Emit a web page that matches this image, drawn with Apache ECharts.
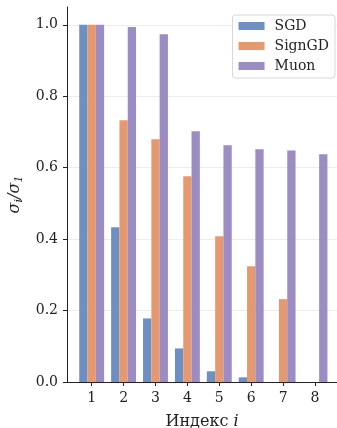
<!DOCTYPE html>
<html><head><meta charset="utf-8">
<script src="https://cdn.jsdelivr.net/npm/echarts@6/dist/echarts.min.js"></script>
<style>html,body{margin:0;padding:0;background:#fff}#c{width:337px;height:428px}</style>
</head><body><div id="c"></div>
<script>
const indices = [1, 2, 3, 4, 5, 6, 7, 8];
const sgd    = [1.0, 0.433, 0.178, 0.094, 0.030, 0.013, 0.0, 0.0];
const signgd = [1.0, 0.733, 0.680, 0.576, 0.408, 0.324, 0.232, 0.0];
const muon   = [1.0, 0.994, 0.974, 0.702, 0.663, 0.652, 0.648, 0.638];
const yTicks = [0, 0.2, 0.4, 0.6, 0.8, 1.0];

const FONT = 'DejaVu Serif';
const colors = ['#6e8fc1', '#e6996f', '#9b8dc3'];
const pair = (arr) => indices.map((x, i) => [x, arr[i]]);
const bw = 8.3;
const mk = (name, arr, c) => ({
  name, type: 'bar', data: pair(arr), barWidth: bw, barGap: '0%',
  itemStyle: { color: c }, emphasis: { disabled: true }
});

const chart = echarts.init(document.getElementById('c'), null, { renderer: 'canvas' });
chart.setOption({
  animation: false,
  color: colors,
  grid: { left: 67, right: 0, top: 7, bottom: 46, containLabel: false, outerBoundsMode: 'none' },
  legend: {
    right: 2, top: 15, orient: 'vertical', itemWidth: 26, itemHeight: 8, itemGap: 6,
    icon: 'rect',
    padding: [4, 6, 5, 6],
    borderColor: '#d6d6d6', borderWidth: 1, borderRadius: 3, backgroundColor: '#fff',
    textStyle: { fontFamily: FONT, fontSize: 14, color: '#222', padding: [0, 0, 0, 5] },
    data: ['SGD', 'SignGD', 'Muon']
  },
  xAxis: {
    type: 'value', min: 0.226, max: 8.69,
    name: 'Индекс {i|i}', nameLocation: 'middle', nameGap: 32,
    nameTextStyle: { fontFamily: FONT, fontSize: 16, color: '#222',
      rich: { i: { fontFamily: FONT, fontStyle: 'italic', fontSize: 16, color: '#222' } } },
    axisLine: { show: true, lineStyle: { color: '#222', width: 1 } },
    axisTick: { show: true, length: 4, customValues: indices, lineStyle: { color: '#222' } },
    axisLabel: { customValues: indices, margin: 9, fontFamily: FONT, fontSize: 14, color: '#222' },
    splitLine: { show: false }
  },
  yAxis: {
    type: 'value', min: 0, max: 1.05,
    name: '{s|σ}{sub|i}{s|/σ}{sub|1}', nameLocation: 'middle', nameGap: 40, nameRotate: 90,
    nameTextStyle: { rich: {
      s: { fontFamily: FONT, fontStyle: 'italic', fontSize: 16, color: '#222' },
      sub: { fontFamily: FONT, fontStyle: 'italic', fontSize: 11, color: '#222', padding: [8, 0, 0, 0] }
    } },
    axisLine: { show: true, lineStyle: { color: '#222', width: 1 } },
    axisTick: { show: true, length: 4, customValues: yTicks, lineStyle: { color: '#222' } },
    axisLabel: { customValues: yTicks, margin: 9, fontFamily: FONT, fontSize: 14, color: '#222',
      formatter: v => v.toFixed(1) },
    interval: 0.2,
    splitLine: { show: true, lineStyle: { color: ['#ececec','#ececec','#ececec','#ececec','#ececec','#ececec','rgba(0,0,0,0)'], width: 1 } }
  },
  series: [mk('SGD', sgd, colors[0]), mk('SignGD', signgd, colors[1]), mk('Muon', muon, colors[2])]
});
</script></body></html>
